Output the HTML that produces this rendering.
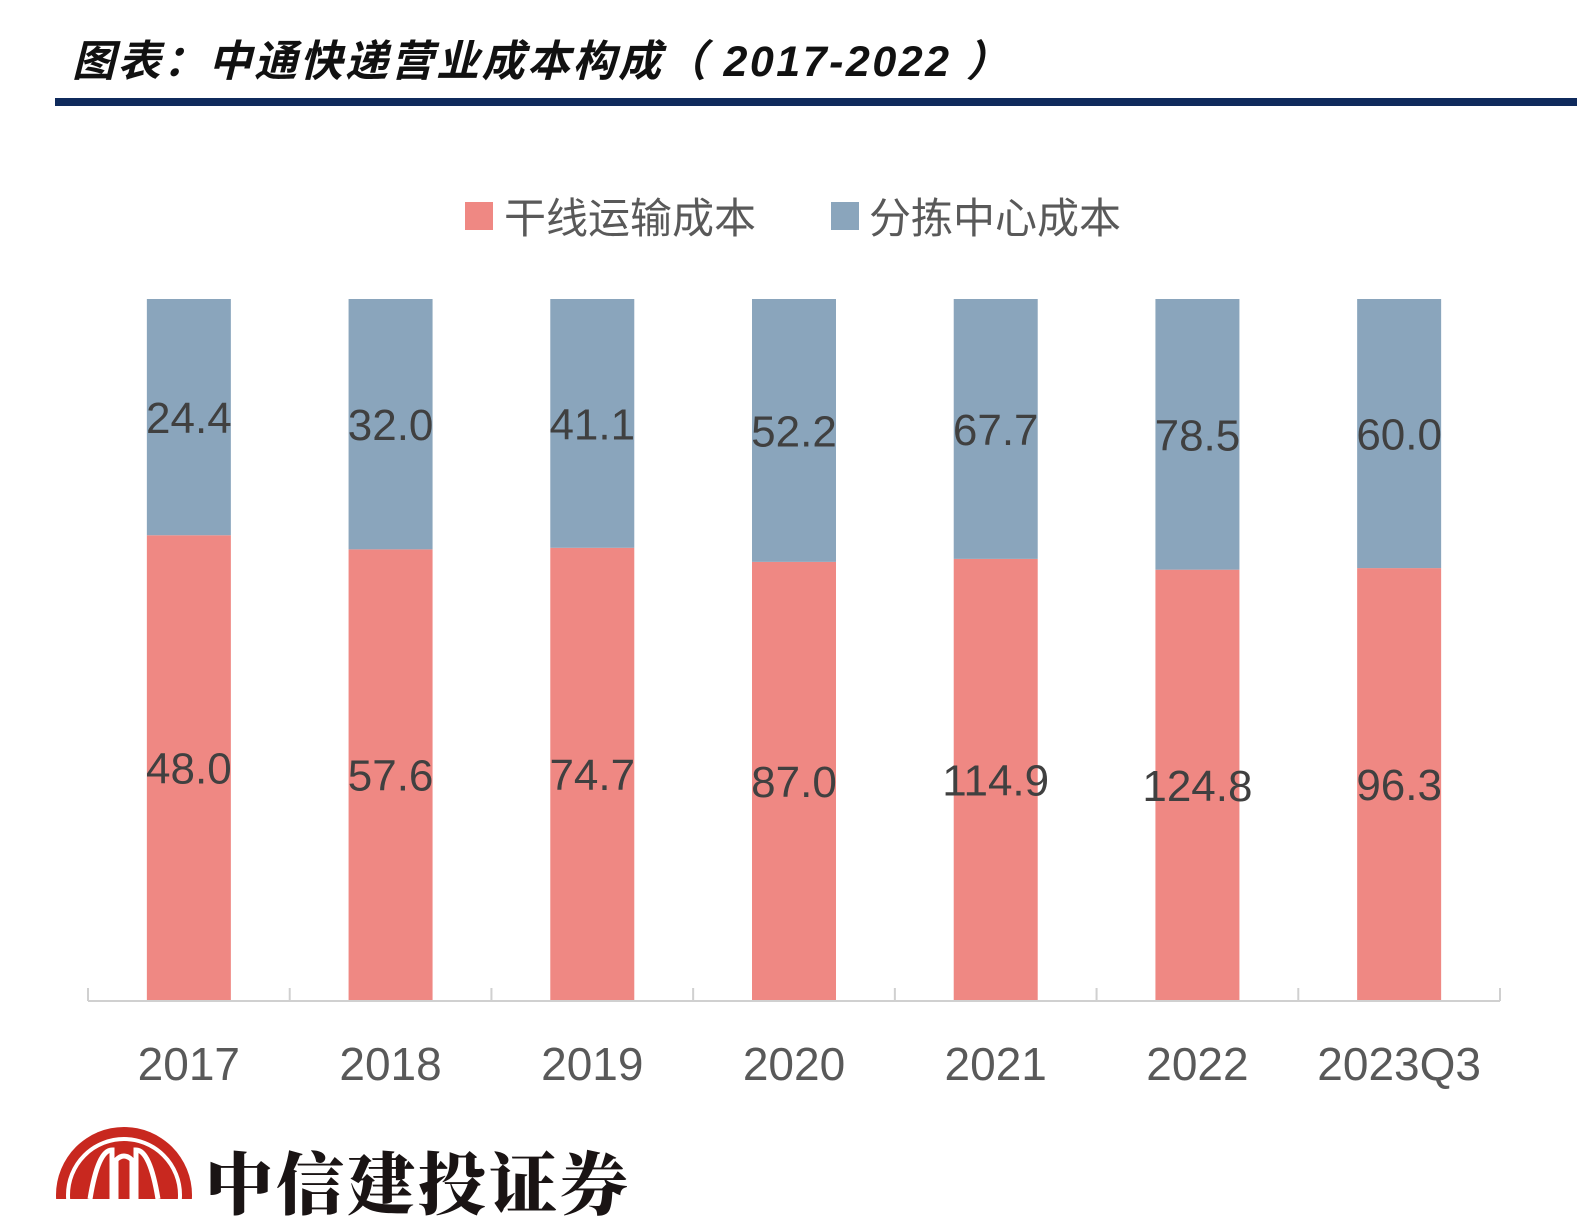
<!DOCTYPE html>
<html><head><meta charset="utf-8">
<style>
html,body{margin:0;padding:0;background:#fff;}
body{width:1577px;height:1199px;position:relative;overflow:hidden;font-family:"Liberation Sans","Noto Sans CJK SC",sans-serif;}
#title{position:absolute;left:72px;top:27px;font-size:43px;font-weight:bold;font-style:italic;color:#111;white-space:nowrap;letter-spacing:2.5px;}
#rule{position:absolute;left:55px;top:98px;width:1530px;height:8px;background:#0f2a5c;}
#logo-text{position:absolute;left:205px;top:1132px;font-family:"Noto Serif CJK SC",serif;font-weight:900;font-size:68px;color:#1a1414;white-space:nowrap;letter-spacing:3px;}
</style></head>
<body>
<div id="title">图表：中通快递营业成本构成（ 2017-2022 ）</div>
<div id="rule"></div>
<svg id="chart" width="1577" height="1199" style="position:absolute;left:0;top:0">
  <g>
    <rect x="465" y="202" width="28" height="28" fill="#EF8883"/>
    <text x="504" y="233" font-size="42" fill="#595959" font-family="Liberation Sans, Noto Sans CJK SC, sans-serif">干线运输成本</text>
    <rect x="831" y="202" width="28" height="28" fill="#8AA5BC"/>
    <text x="869" y="233" font-size="42" fill="#595959" font-family="Liberation Sans, Noto Sans CJK SC, sans-serif">分拣中心成本</text>
  </g>
  <g id="bars"></g>
  <g id="axis"></g>
  <g>
    <circle cx="124" cy="1195" r="68" fill="#c8281f"/>
    <circle cx="124" cy="1195" r="56" fill="none" stroke="#fff" stroke-width="4"/>
    <path d="M90 1199 Q98 1150 112 1150 L112 1199 M136 1199 L136 1150 Q150 1150 158 1199 M116 1199 L116 1160 Q124 1152 132 1160 L132 1199" fill="none" stroke="#fff" stroke-width="5"/>
  </g>
</svg>
<div id="logo-text">中信建投证券</div>
<script>
const categories = ["2017","2018","2019","2020","2021","2022","2023Q3"];
const trunkCost = [48.0,57.6,74.7,87.0,114.9,124.8,96.3];
const sortingCost = [24.4,32.0,41.1,52.2,67.7,78.5,60.0];

const NS="http://www.w3.org/2000/svg";
const x0=88, x1=1500, yTop=299, yBot=1000, barW=84;
const step=(x1-x0)/categories.length;
const xCenter=i=>x0+step*(i+0.5);
const yPct=p=>yBot-(yBot-yTop)*p;
const bars=document.getElementById('bars');
const axis=document.getElementById('axis');
function mk(tag,attrs,parent){const e=document.createElementNS(NS,tag);for(const k in attrs)e.setAttribute(k,attrs[k]);parent.appendChild(e);return e;}
categories.forEach((c,i)=>{
  const tot=trunkCost[i]+sortingCost[i];
  const p=trunkCost[i]/tot;
  const cx=xCenter(i);
  const yMid=yPct(p);
  const r=mk('rect',{x:cx-barW/2,y:yMid,width:barW,height:yBot-yMid,fill:'#EF8883'},bars);
  
  
  const b=mk('rect',{x:cx-barW/2,y:yTop,width:barW,height:yMid-yTop,fill:'#8AA5BC'},bars);
  
  
  const t1=mk('text',{x:cx,y:(yMid+yBot)/2+16,'text-anchor':'middle','font-size':44,fill:'#404040'},bars);
  t1.textContent=trunkCost[i].toFixed(1);
  
  
  const t2=mk('text',{x:cx,y:(yTop+yMid)/2+16,'text-anchor':'middle','font-size':44,fill:'#404040'},bars);
  t2.textContent=sortingCost[i].toFixed(1);
  
  
  const xl=mk('text',{x:cx,y:1080,'text-anchor':'middle','font-size':46,fill:'#595959'},axis);
  xl.textContent=c;
  
  
});
const ax=mk('line',{x1:x0,y1:yBot+1,x2:x1,y2:yBot+1,stroke:'#d0d0d0','stroke-width':2},axis);


for(let i=0;i<=categories.length;i++){
  const x=x0+step*i;
  const tk=mk('line',{x1:x,y1:yBot-12,x2:x,y2:yBot+1,stroke:'#d0d0d0','stroke-width':2},axis);
  
  
}
</script>
</body></html>
